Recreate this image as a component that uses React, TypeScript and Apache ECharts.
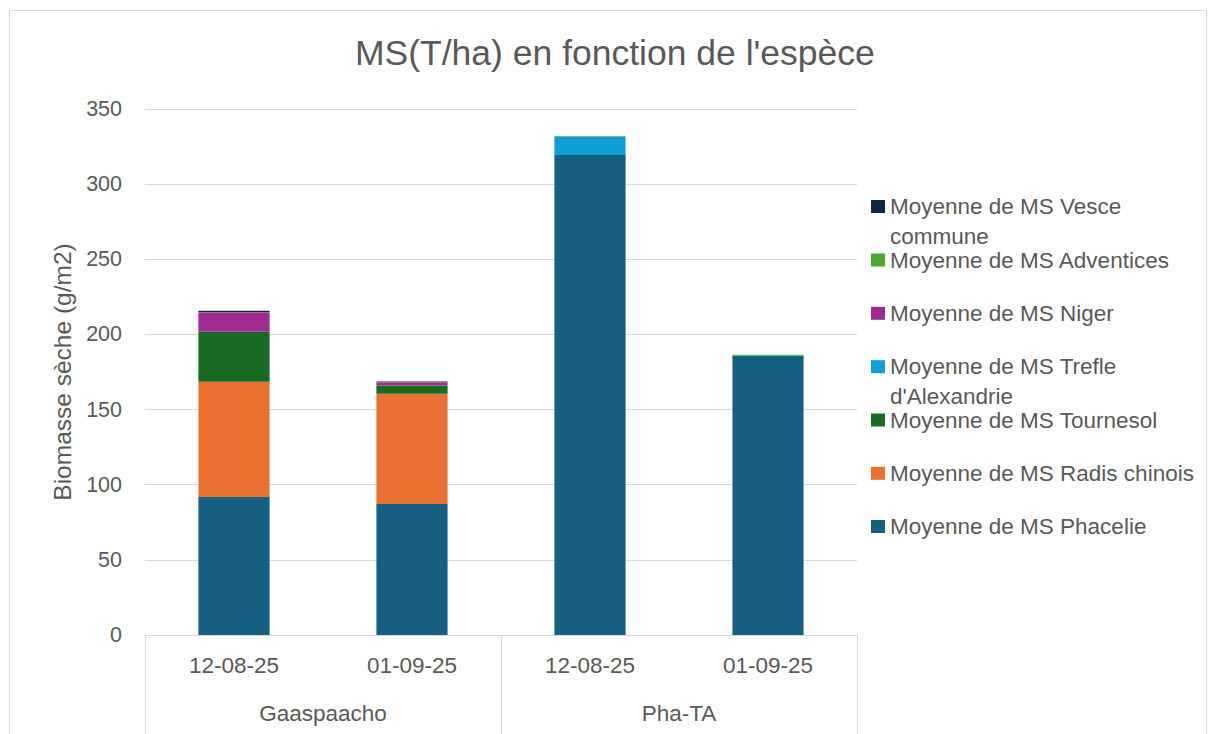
import React, { useEffect, useRef } from 'react';
import * as echarts from 'echarts';

const groups = ['Gaaspaacho', 'Pha-TA'];
const dates = ['12-08-25', '01-09-25'];
const categories = groups.flatMap((g) => dates.map((d) => g + '|' + d));

const seriesNames = [
  'Moyenne de MS Phacelie',
  'Moyenne de MS Radis chinois',
  'Moyenne de MS Tournesol',
  "Moyenne de MS Trefle d'Alexandrie",
  'Moyenne de MS Niger',
  'Moyenne de MS Adventices',
  'Moyenne de MS Vesce commune',
];
const phacelie = [91.8, 87.2, 319.4, 185.6];
const radis = [76.7, 73.3, 0, 0];
const tournesol = [33.3, 5.6, 0, 0];
const trefle = [0, 0, 11.9, 0.3];
const niger = [12.9, 2.0, 0, 0];
const adventices = [0.3, 0.2, 0.6, 0.5];
const vesce = [0.8, 0.4, 0, 0];
const seriesValues = [phacelie, radis, tournesol, trefle, niger, adventices, vesce];
const colors = ['#156082', '#E97132', '#196B24', '#0F9ED5', '#A02B93', '#4EA72E', '#0E2841'];

const yTicks = [0, 50, 100, 150, 200, 250, 300, 350];

const TEXT = '#595959';
const GRID = '#D9D9D9';
const FONT = '"Liberation Sans", Arial, sans-serif';

// legend display text (wrapped like the original)
const legendLabels: Record<string, string> = {
  'Moyenne de MS Vesce commune': '\nMoyenne de MS Vesce\ncommune',
  "Moyenne de MS Trefle d'Alexandrie": "\nMoyenne de MS Trefle\nd'Alexandrie",
};
const legendCenters = [526.5, 473.3, 420, 366.7, 313.3, 260, 206.5];

export default function App() {
  const ref = useRef<HTMLDivElement>(null);
  useEffect(() => {
    if (!ref.current) return;
    const chart = echarts.init(ref.current, null, { renderer: 'svg' });
    const LH = 30;
    const legends = seriesNames.map((name, i) => {
      const wrapped = !!legendLabels[name];
      const yc = legendCenters[i];
      return {
        show: true,
        orient: 'vertical',
        left: 871,
        top: wrapped ? yc - LH * 1.5 : yc - LH / 2,
        padding: 0,
        icon: 'rect',
        itemWidth: 14,
        itemHeight: 13,
        itemGap: 0,
        selectedMode: false,
        data: [name],
        formatter: (n: string) => legendLabels[n] || n,
        textStyle: {
          color: TEXT,
          fontSize: 22.5,
          fontFamily: FONT,
          lineHeight: LH,
        },
      };
    });
    const option: any = {
      animation: false,
      backgroundColor: '#ffffff',
      color: colors,
      title: {
        text: "MS(T/ha) en fonction de l'espèce",
        left: 355,
        top: 35,
        padding: 0,
        textStyle: { color: TEXT, fontSize: 35.5, fontWeight: 'normal', fontFamily: FONT },
      },
      legend: legends,
      grid: { left: 145, right: 352, top: 109, bottom: 99, containLabel: false },
      xAxis: [
        {
          type: 'category',
          data: categories,
          position: 'bottom',
          axisLine: { show: true, lineStyle: { color: GRID, width: 1 } },
          axisTick: { show: false },
          axisLabel: {
            color: TEXT,
            fontSize: 22.5,
            fontFamily: FONT,
            margin: 19,
            interval: 0,
            formatter: (v: string) => v.split('|')[1],
          },
        },
        {
          type: 'category',
          data: groups,
          position: 'bottom',
          offset: 0,
          axisLine: { show: false },
          axisTick: { show: true, length: 100, interval: 0, lineStyle: { color: GRID, width: 1 } },
          axisLabel: { color: TEXT, fontSize: 22.5, fontFamily: FONT, margin: 67, interval: 0 },
        },
      ],
      yAxis: {
        type: 'value',
        min: yTicks[0],
        max: yTicks[yTicks.length - 1],
        interval: yTicks[1] - yTicks[0],
        name: 'Biomasse sèche (g/m2)',
        nameLocation: 'middle',
        nameGap: 70,
        nameTextStyle: { color: TEXT, fontSize: 24.5, fontFamily: FONT },
        axisLine: { show: false },
        axisTick: { show: false },
        axisLabel: { color: TEXT, fontSize: 21.5, fontFamily: FONT, margin: 23 },
        splitLine: { show: true, lineStyle: { color: GRID, width: 1 } },
      },
      graphic: [
        {
          type: 'rect',
          silent: true,
          shape: { x: 9.5, y: 10.5, width: 1197, height: 740 },
          style: { fill: 'none', stroke: GRID, lineWidth: 1 },
        },
      ],
      series: seriesNames.map((name, i) => ({
        name,
        type: 'bar',
        stack: 'total',
        xAxisIndex: 0,
        barWidth: '40%',
        itemStyle: { color: colors[i] },
        data: seriesValues[i],
      })),
    };
    chart.setOption(option);
    return () => chart.dispose();
  }, []);
  return (
    <div
      ref={ref}
      style={{ position: 'absolute', left: 0, top: 0, width: 1209, height: 734 }}
    />
  );
}
